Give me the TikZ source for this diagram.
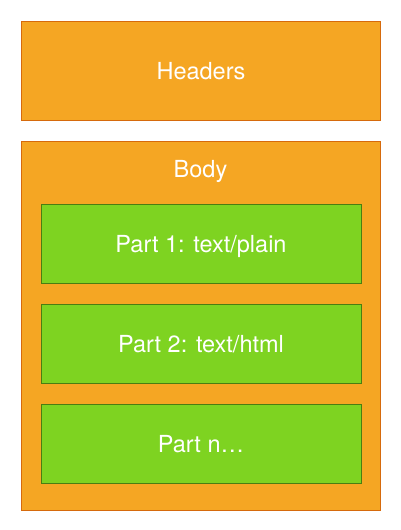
\documentclass[tikz,border=0pt]{standalone}
\usepackage{fontspec}
\setmainfont{TeX Gyre Heros}
\definecolor{orfill}{HTML}{F5A623}
\definecolor{orline}{HTML}{D66A0C}
\definecolor{grfill}{HTML}{7ED321}
\definecolor{grline}{HTML}{4A7E12}
\tikzset{
  obox/.style={draw=orline, fill=orfill, line width=1pt},
  gbox/.style={draw=grline, fill=grfill, line width=1pt, minimum width=320pt, minimum height=79pt, inner sep=0pt},
  lbl/.style={text=white, font=\fontsize{23.5pt}{26pt}\selectfont, inner sep=0pt}
}
\begin{document}
\begin{tikzpicture}[x=1pt,y=-1pt]
\useasboundingbox (0,0) rectangle (400,530);
\draw[obox] (21,21) rectangle (380.5,120);
\node[lbl] (headers) at (201,71) {Headers};
\draw[obox] (21,141) rectangle (380.5,510);
\node[lbl, anchor=base] (body) at (200.5,177) {Body};
\node[gbox] (p1) at (201,243.5) {};
\node[lbl, anchor=base] (t1) at (p1.center) [yshift=-9pt] {Part 1: text/plain};
\node[gbox] (p2) at (201,343.5) {};
\node[lbl, anchor=base] (t2) at (p2.center) [yshift=-9pt] {Part 2: text/html};
\node[gbox] (pn) at (201,443.5) {};
\node[lbl, anchor=base] (tn) at (pn.center) [yshift=-9pt] {Part n…};
\end{tikzpicture}
\end{document}
